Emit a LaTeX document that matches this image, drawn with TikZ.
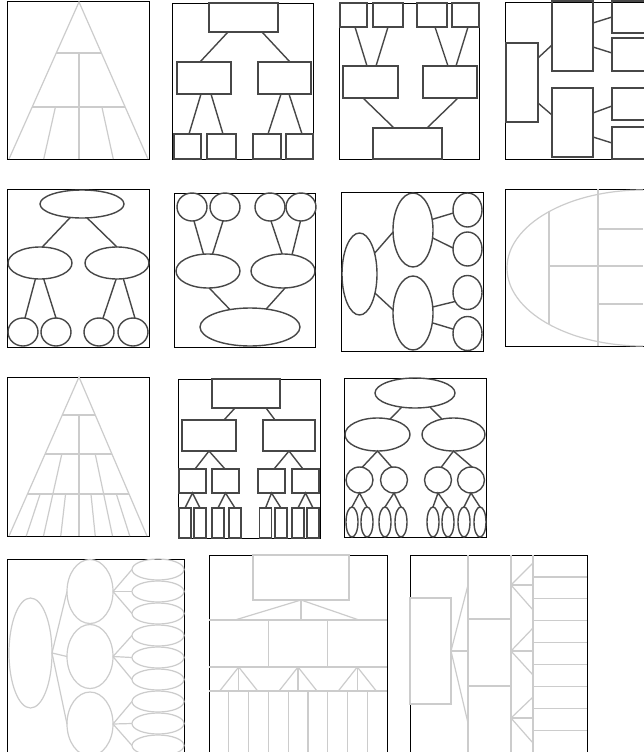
\documentclass[tikz,border=0pt]{standalone}
\usepackage{tikz}
\usetikzlibrary{calc,shapes.geometric}
\definecolor{ink}{gray}{0.28}
\definecolor{pale}{gray}{0.80}
\begin{document}
\begin{tikzpicture}[
  x=1pt, y=-1pt,
  panel/.style={draw=black, line width=0.9pt},
  box/.style={rectangle, draw=ink, line width=1.5pt, inner sep=0pt, outer sep=0pt},
  oval/.style={ellipse, draw=ink, line width=1.4pt, inner sep=0pt, outer sep=0pt},
  paleoval/.style={ellipse, draw=pale, line width=1.2pt, inner sep=0pt, outer sep=0pt},
  wh/.style 2 args={minimum width=#1pt, minimum height=#2pt},
  link/.style={draw=ink, line width=1.4pt},
  faint/.style={draw=pale, line width=1.2pt}
]
\useasboundingbox[fill=white] (0,0) rectangle (643,752);

\draw[panel] (7,1) rectangle (149,159);
\coordinate (p1ap) at (79,2);
\coordinate (p1bl) at (9,159);
\coordinate (p1br) at (148,159);
\draw[faint] (p1bl) -- (p1ap) -- (p1br);
\foreach \t in {0.325,0.669} \draw[faint] ($(p1ap)!\t!(p1bl)$) -- ($(p1ap)!\t!(p1br)$);
\draw[faint] (79,53) -- (79,159);
\coordinate (p1ml) at ($(p1ap)!0.669!(p1bl)$);
\coordinate (p1mr) at ($(p1ap)!0.669!(p1br)$);
\foreach \k in {1,3} \draw[faint] ($(p1ml)!\k/4!(p1mr)$) -- ($(p1bl)!\k/4!(p1br)$);

\draw[panel] (172,3) rectangle (313,159);
\node[box, wh={69}{29}] (p2top) at (243.5,17.5) {};
\node[box, wh={54}{32}] (p2l) at (204,78) {};
\node[box, wh={53}{32}] (p2r) at (284.5,78) {};
\node[box, wh={27}{25}] (p2a) at (187.5,146.5) {};
\node[box, wh={29}{25}] (p2b) at (221.5,146.5) {};
\node[box, wh={28}{25}] (p2c) at (267,146.5) {};
\node[box, wh={27}{25}] (p2d) at (299.5,146.5) {};
\draw[link] (p2top.south -| 228,0) -- (p2l.north -| 200,0);
\draw[link] (p2top.south -| 262,0) -- (p2r.north -| 290,0);
\draw[link] (p2l.south -| 201,0) -- (p2a.north -| 189,0);
\draw[link] (p2l.south -| 211,0) -- (p2b.north -| 223,0);
\draw[link] (p2r.south -| 281,0) -- (p2c.north -| 268,0);
\draw[link] (p2r.south -| 289,0) -- (p2d.north -| 302,0);

\draw[panel] (339,3) rectangle (479,159);
\node[box, wh={27}{24}] (p3a) at (353.5,15) {};
\node[box, wh={30}{24}] (p3b) at (388,15) {};
\node[box, wh={30}{24}] (p3c) at (432,15) {};
\node[box, wh={27}{24}] (p3d) at (465.5,15) {};
\node[box, wh={55}{32}] (p3l) at (370.5,82) {};
\node[box, wh={54}{32}] (p3r) at (450,82) {};
\node[box, wh={69}{31}] (p3bot) at (407.5,143.5) {};
\draw[link] (p3a.south -| 355,0) -- (p3l.north -| 367,0);
\draw[link] (p3b.south -| 388,0) -- (p3l.north -| 376,0);
\draw[link] (p3c.south -| 435,0) -- (p3r.north -| 448,0);
\draw[link] (p3d.south -| 468,0) -- (p3r.north -| 456,0);
\draw[link] (p3l.south -| 363,0) -- (p3bot.north -| 394,0);
\draw[link] (p3r.south -| 458,0) -- (p3bot.north -| 427,0);

\draw[panel] (648,2) -- (505,2) -- (505,159) -- (648,159);
\node[box, wh={32}{79}] (p4l) at (522,82.5) {};
\node[box, wh={41}{70}] (p4u) at (572.5,36) {};
\node[box, wh={41}{69}] (p4d) at (572.5,122.5) {};
\node[box, wh={34}{32}] (p4a) at (629,17) {};
\node[box, wh={34}{33}] (p4b) at (629,54.5) {};
\node[box, wh={34}{32}] (p4c) at (629,104) {};
\node[box, wh={34}{32}] (p4e) at (629,143) {};
\draw[link] (p4l.east |- 0,58) -- (p4u.west |- 0,45);
\draw[link] (p4l.east |- 0,103) -- (p4d.west |- 0,115);
\draw[link] (p4u.east |- 0,23) -- (p4a.west |- 0,17);
\draw[link] (p4u.east |- 0,47) -- (p4b.west |- 0,53);
\draw[link] (p4d.east |- 0,113) -- (p4c.west |- 0,106);
\draw[link] (p4d.east |- 0,137) -- (p4e.west |- 0,143);

\draw[panel] (7,189) rectangle (149,347);
\node[oval, wh={84}{28}] (p5top) at (82,204) {};
\node[oval, wh={64}{32}] (p5l) at (40,263) {};
\node[oval, wh={64}{32}] (p5r) at (117,263) {};
\foreach \n/\x in {a/23,b/56,c/99,d/133} \node[oval, wh={30}{28}] (p5\n) at (\x,332) {};
\draw[link] (p5top.-131) -- (p5l.82);
\draw[link] (p5top.-70) -- (p5r.90);
\draw[link] (p5l.-106) -- (p5a.82);
\draw[link] (p5l.-77) -- (p5b.90);
\draw[link] (p5r.-93) -- (p5c.74);
\draw[link] (p5r.-68) -- (p5d.82);

\draw[panel] (174,193) rectangle (315,347);
\foreach \n/\x in {a/192,b/225,c/270,d/301} \node[oval, wh={30}{28}] (p6\n) at (\x,207) {};
\node[oval, wh={64}{34}] (p6l) at (208,271) {};
\node[oval, wh={64}{34}] (p6r) at (283,271) {};
\node[oval, wh={100}{38}] (p6bot) at (250,327) {};
\draw[link] (p6a.-82) -- (p6l.105);
\draw[link] (p6b.-98) -- (p6l.75);
\draw[link] (p6c.-86) -- (p6r.93);
\draw[link] (p6d.-92) -- (p6r.61);
\draw[link] (p6l.-86) -- (p6bot.139);
\draw[link] (p6r.-83) -- (p6bot.48);

\draw[panel] (341,192) rectangle (483,351);
\node[oval, wh={35}{82}] (p7big) at (359.5,274) {};
\node[oval, wh={40}{74}] (p7up) at (413,230) {};
\node[oval, wh={40}{74}] (p7lo) at (413,313) {};
\foreach \n/\y in {1/210,2/249,3/292.5,4/333.5} \node[oval, wh={29}{34}] (p7c\n) at (467.5,\y) {};
\draw[link] (p7big.54) -- (p7up.-174);
\draw[link] (p7big.-51) -- (p7lo.171);
\draw[link] (p7up.29) -- (p7c1.-168);
\draw[link] (p7up.-22) -- (p7c2.176);
\draw[link] (p7lo.17) -- (p7c3.-144);
\draw[link] (p7lo.-27) -- (p7c4.163);

\draw[panel] (648,189) -- (505,189) -- (505,346) -- (648,346);
\begin{scope}
\clip (505,189) rectangle (643,346);
\draw[faint] (643,268) ellipse [x radius=136, y radius=78];
\end{scope}
\draw[faint] (549,211) -- (549,324);
\draw[faint] (598,189) -- (598,346);
\draw[faint] (549,266) -- (643,266);
\draw[faint] (598,229) -- (643,229);
\draw[faint] (598,304) -- (643,304);

\draw[panel] (7,377) rectangle (149,536);
\coordinate (p9ap) at (79,377);
\coordinate (p9bl) at (9,536);
\coordinate (p9br) at (147,536);
\draw[faint] (p9bl) -- (p9ap) -- (p9br);
\foreach \t in {0.239,0.484,0.736} \draw[faint] ($(p9ap)!\t!(p9bl)$) -- ($(p9ap)!\t!(p9br)$);
\draw[faint] (79,415) -- (79,536);
\coordinate (p9al) at ($(p9ap)!0.484!(p9bl)$);
\coordinate (p9ar) at ($(p9ap)!0.484!(p9br)$);
\coordinate (p9cl) at ($(p9ap)!0.736!(p9bl)$);
\coordinate (p9cr) at ($(p9ap)!0.736!(p9br)$);
\foreach \k in {1,3} \draw[faint] ($(p9al)!\k/4!(p9ar)$) -- ($(p9cl)!\k/4!(p9cr)$);
\foreach \k in {1,2,3,5,6,7} \draw[faint] ($(p9cl)!\k/8!(p9cr)$) -- ($(p9bl)!\k/8!(p9br)$);

\draw[panel] (178,379) rectangle (320,538);
\node[box, wh={68}{29}] (p10top) at (246,393.5) {};
\node[box, wh={54}{31}] (p10l) at (209,435.5) {};
\node[box, wh={52}{31}] (p10r) at (289,435.5) {};
\foreach \n/\x in {a/192.5,b/225.5,c/271.5,d/305.5} \node[box, wh={27}{24}] (p10\n) at (\x,481) {};
\foreach \n/\x in {1/185,2/200,3/218,4/235,5/265.5,6/281,7/298,8/313} \node[box, wh={12}{30}] (p10s\n) at (\x,523) {};
\draw[link] (p10top.south -| 235,0) -- (p10l.north -| 224,0);
\draw[link] (p10top.south -| 266,0) -- (p10r.north -| 275,0);
\draw[link] (p10a.north -| 195,0) -- (p10l.south) -- (p10b.north -| 225,0);
\draw[link] (p10c.north -| 274,0) -- (p10r.south) -- (p10d.north -| 303,0);
\foreach \u/\v/\w in {a/1/2,b/3/4,c/5/6,d/7/8} \draw[link] (p10s\v.north) -- (p10\u.south) -- (p10s\w.north);

\draw[panel] (344,378) rectangle (486,537);
\node[oval, wh={80}{30}] (p11top) at (415,393) {};
\node[oval, wh={65}{33}] (p11l) at (377.5,434.5) {};
\node[oval, wh={63}{33}] (p11r) at (453.5,434.5) {};
\foreach \n/\x in {a/359.5,b/394,c/438,d/471} \node[oval, wh={27}{26}] (p11\n) at (\x,480) {};
\foreach \n/\x in {1/352,2/367,3/385,4/401,5/433,6/448,7/464,8/480} \node[oval, wh={12}{30}] (p11s\n) at (\x,522) {};
\draw[link] (p11top.-133) -- (p11l.51);
\draw[link] (p11top.-43) -- (p11r.127);
\draw[link] (p11a.78) -- (p11l.south) -- (p11b.100);
\draw[link] (p11c.76) -- (p11r.south) -- (p11d.85);
\foreach \u/\v/\w in {a/1/2,b/3/4,c/5/6,d/7/8} \draw[link] (p11s\v.north) -- (p11\u.south) -- (p11s\w.north);

\draw[panel] (7,760) -- (7,559) -- (184,559) -- (184,760);
\node[paleoval, wh={43}{110}] (p12big) at (30.5,653) {};
\foreach \n/\y in {a/591.5,b/656.5,c/724} \node[paleoval, wh={46}{64}] (p12\n) at (90,\y) {};
\foreach \k in {1,...,9} \node[paleoval, wh={52}{21}] (p12r\k) at (158,547.5+22*\k) {};
\foreach \n in {a,b,c} \draw[faint] (p12big.east) -- (p12\n.west);
\foreach \n/\i/\j/\k in {a/1/2/3,b/4/5/6,c/7/8/9} \foreach \m in {\i,\j,\k} \draw[faint] (p12\n.east) -- (p12r\m.west);

\draw[panel] (209,760) -- (209,555) -- (387,555) -- (387,760);
\draw[faint] (253,555) rectangle (349,600);
\coordinate (p13hub) at (301,600);
\foreach \x in {235,301,359} \draw[faint] (p13hub) -- (\x,620);
\foreach \y in {620,667,691} \draw[faint] (209,\y) -- (387,\y);
\foreach \x in {268.3,327.7} \draw[faint] (\x,620) -- (\x,667);
\foreach \x in {238.7,298,357.3} \foreach \d in {-19,0,19} \draw[faint] (\x,667) -- (\x+\d,691);
\foreach \k in {1,...,8} \draw[faint] (209+19.78*\k,691) -- (209+19.78*\k,752);

\draw[panel] (410,760) -- (410,555) -- (587,555) -- (587,760);
\draw[faint] (410,598) rectangle (451,704);
\foreach \y in {585,651,723} \draw[faint] (451,651) -- (468,\y);
\draw[faint] (468,555) -- (468,752);
\draw[faint] (511,555) -- (511,752);
\foreach \y in {619,686} \draw[faint] (468,\y) -- (511,\y);
\foreach \y/\a/\b in {585/563/610,651/628/675,718/697/743} \foreach \z in {\a,\y,\b} \draw[faint] (511,\y) -- (533,\z);
\draw[faint] (533,555) -- (533,752);
\foreach \k in {1,...,8} \draw[faint] (533,555+21.9*\k) -- (587,555+21.9*\k);
\end{tikzpicture}
\end{document}
